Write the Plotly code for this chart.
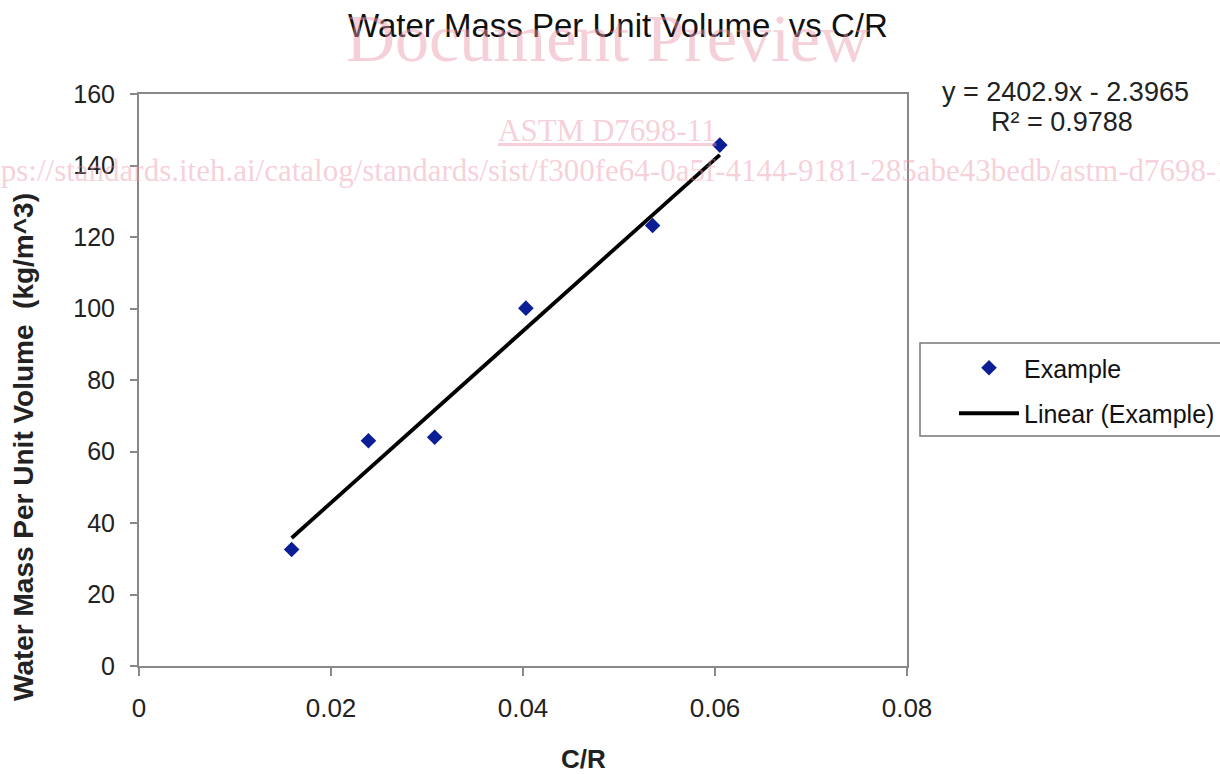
import plotly.graph_objects as go

# Data
cr_values = [0.0159, 0.0239, 0.0308, 0.0403, 0.0535, 0.0605]
water_mass = [32.6, 63.0, 64.0, 100.1, 123.2, 145.7]
trend_slope = 2402.9
trend_intercept = -2.3965
r_squared = 0.9788
x_ticks = [0, 0.02, 0.04, 0.06, 0.08]
x_tick_labels = ["0", "0.02", "0.04", "0.06", "0.08"]
y_ticks = [0, 20, 40, 60, 80, 100, 120, 140, 160]

trend_x = [min(cr_values), max(cr_values)]
trend_y = [trend_slope * v + trend_intercept for v in trend_x]

W, H = 1220, 774
L, R, T, B = 139, 907, 94, 666

def px(x):
    return (x - L) / (R - L)

def py(y):
    return (B - y) / (B - T)

fig = go.Figure()
fig.add_trace(go.Scatter(
    x=cr_values, y=water_mass, mode="markers", name="Example",
    marker=dict(symbol="diamond", size=12, color="#0B1E96"),
    legendgroup="a",
))
fig.add_trace(go.Scatter(
    x=trend_x, y=trend_y, mode="lines", name="Linear (Example)",
    line=dict(color="black", width=3.8),
    legendgroup="b",
))

font_main = "Liberation Sans, Arial, sans-serif"
serif = "Liberation Serif, Times New Roman, serif"
pink = "rgba(236,150,170,0.45)"

annotations = [
    dict(text="Water Mass Per Unit Volume  vs C/R", x=px(618), y=py(25), xref="paper", yref="paper",
         showarrow=False, font=dict(family=font_main, size=33, color="#111"), xanchor="center", yanchor="middle"),
    dict(text=f"y = {trend_slope}x - {abs(trend_intercept)}", x=px(1065), y=py(92), xref="paper", yref="paper",
         showarrow=False, font=dict(family=font_main, size=27, color="#222"), xanchor="center", yanchor="middle"),
    dict(text=f"R² = {r_squared}", x=px(1062), y=py(122), xref="paper", yref="paper",
         showarrow=False, font=dict(family=font_main, size=27, color="#222"), xanchor="center", yanchor="middle"),
    dict(text="<b>C/R</b>", x=px(583), y=py(759), xref="paper", yref="paper",
         showarrow=False, font=dict(family=font_main, size=26, color="#222"), xanchor="center", yanchor="middle"),
    dict(text="<b>Water Mass Per Unit Volume  (kg/m^3)</b>", x=px(24), y=py(447), xref="paper", yref="paper",
         textangle=-90, showarrow=False, font=dict(family=font_main, size=28, color="#222"),
         xanchor="center", yanchor="middle"),
    # watermark
    dict(text="Document Preview", x=px(607), y=py(38), xref="paper", yref="paper",
         showarrow=False, font=dict(family=serif, size=68, color=pink), xanchor="center", yanchor="middle"),
    dict(text="<u>ASTM D7698-11</u>", x=px(607), y=py(130), xref="paper", yref="paper",
         showarrow=False, font=dict(family=serif, size=31, color=pink), xanchor="center", yanchor="middle"),
    dict(text="https://standards.iteh.ai/catalog/standards/sist/f300fe64-0a5f-4144-9181-285abe43bedb/astm-d7698-11",
         x=px(607), y=py(170), xref="paper", yref="paper",
         showarrow=False, font=dict(family=serif, size=31, color=pink), xanchor="center", yanchor="middle"),
]

shapes = [
    dict(type="rect", xref="paper", yref="paper", x0=px(920), x1=px(1240), y0=py(343), y1=py(436),
         line=dict(color="#777", width=1.5), fillcolor="rgba(0,0,0,0)", layer="below"),
]

fig.update_layout(
    width=W, height=H,
    margin=dict(l=L, r=W - R, t=T, b=H - B, autoexpand=False),
    paper_bgcolor="white", plot_bgcolor="white",
    showlegend=True,
    legend=dict(
        x=px(954), y=py(345), xanchor="left", yanchor="top",
        borderwidth=0, bgcolor="rgba(0,0,0,0)",
        font=dict(family=font_main, size=25, color="#111"),
        traceorder="grouped", tracegroupgap=10,
        itemwidth=60,
    ),
    xaxis=dict(
        range=[0, 0.08], tickvals=x_ticks, ticktext=x_tick_labels,
        showgrid=False, zeroline=False,
        showline=True, linecolor="#888", linewidth=2, mirror=True,
        ticks="outside", ticklen=8, tickcolor="#888", tickwidth=1.5,
        tickfont=dict(family=font_main, size=26, color="#222"),
        ticklabelstandoff=10,
    ),
    yaxis=dict(
        range=[0, 160], tickvals=y_ticks,
        showgrid=False, zeroline=False,
        showline=True, linecolor="#888", linewidth=2, mirror=True,
        ticks="outside", ticklen=7, tickcolor="#888", tickwidth=1.5,
        tickfont=dict(family=font_main, size=25, color="#222"),
        ticklabelstandoff=10,
    ),
    annotations=annotations,
    shapes=shapes,
)

fig.write_html("out.html", config={"displayModeBar": False},
               post_script="document.body.style.margin='0';document.body.style.overflow='hidden';")
